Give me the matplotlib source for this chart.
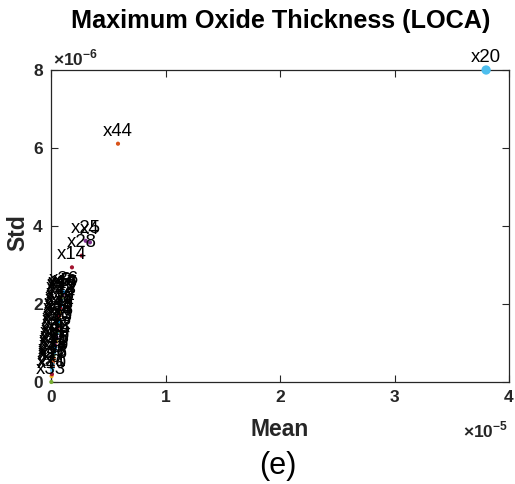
import numpy as np
import matplotlib
matplotlib.use("Agg")
import matplotlib.pyplot as plt

plt.rcParams['font.family'] = ['Liberation Sans', 'DejaVu Sans']
plt.rcParams['mathtext.fontset'] = 'custom'
plt.rcParams['mathtext.rm'] = 'Liberation Sans:bold'
plt.rcParams['mathtext.bf'] = 'Liberation Sans:bold'

# sample ids 1..50, mean and std of max oxide thickness (m)
ids = np.arange(1, 51)
mean_e6 = [0.45, 0.80, 0.20, 3.40, 0.95, 0.10, 0.60, 0.35, 1.05, 0.05,
           0.70, 0.25, 0.90, 1.83, 0.50, 0.15, 1.00, 0.30, 0.75, 38.0,
           0.08, 0.85, 0.55, 0.40, 3.03, 0.65, 0.12, 2.68, 0.92, 0.22,
           0.78, 0.48, 0.03, 0.88, 0.58, 1.10, 0.18, 0.68, 0.38, 0.97,
           0.28, 0.82, 0.62, 5.85, 0.42, 1.02, 0.52, 0.14, 0.72, 0.33]
std_e6 = [1.10, 1.75, 0.55, 3.58, 2.25, 0.30, 1.45, 0.90, 2.28, 0.15,
          1.60, 0.70, 2.05, 2.94, 1.25, 0.40, 2.20, 0.80, 1.85, 8.00,
          0.20, 2.10, 1.35, 1.00, 3.62, 1.50, 0.35, 3.24, 2.15, 0.60,
          1.80, 1.15, 0.00, 1.95, 1.40, 2.30, 0.50, 1.65, 0.95, 2.18,
          0.75, 1.90, 1.55, 6.11, 1.05, 2.22, 1.30, 0.45, 1.70, 0.85]
mean_vals = np.array(mean_e6) * 1e-6
std_vals = np.array(std_e6) * 1e-6

colororder = ['#0072BD', '#D95319', '#EDB120', '#7E2F8E',
              '#77AC30', '#4DBEEE', '#A2142F']
dark = '#262626'

fig = plt.figure(figsize=(5.15, 4.84), dpi=100)
ax = fig.add_axes([51/515, 1 - 382/484, 458/515, 312/484])

for i, m, s in zip(ids, mean_vals, std_vals):
    c = colororder[(i - 1) % 7]
    size = 45 if i == 20 else 9
    ax.scatter(m, s, s=size, color=c, edgecolors='none', zorder=3, clip_on=False)
    ax.annotate('x%d' % i, (m, s), xytext=(0, 3), textcoords='offset points',
                ha='center', va='bottom', fontsize=13.4, color='black',
                zorder=4, annotation_clip=False)

ax.set_xlim(0, 4e-5)
ax.set_ylim(0, 8e-6)
ax.set_xticks(np.arange(0, 5) * 1e-5)
ax.set_xticklabels(['0', '1', '2', '3', '4'])
ax.set_yticks(np.arange(0, 10, 2) * 1e-6)
ax.set_yticklabels(['0', '2', '4', '6', '8'])
ax.tick_params(direction='in', length=5, width=0.8, colors=dark,
               top=True, right=True, labelsize=12.5, pad=6)
for lab in ax.get_xticklabels() + ax.get_yticklabels():
    lab.set_fontweight('bold')
for sp in ax.spines.values():
    sp.set_color(dark)
    sp.set_linewidth(0.9)

ax.set_xlabel('Mean', fontsize=16.5, fontweight='bold', color=dark, labelpad=9)
ax.set_ylabel('Std', fontsize=16.5, fontweight='bold', color=dark,
              ha='center', va='center')
ax.yaxis.set_label_coords(-0.072, 0.48)

fig.text(53/515, 1 - 65/484, '×10$^{-6}$', fontsize=12.5, fontweight='bold',
         color=dark, ha='left', va='baseline')
fig.text(508/515, 1 - 437/484, '×10$^{-5}$', fontsize=12.5, fontweight='bold',
         color=dark, ha='right', va='baseline')

fig.text(281/515, 1 - 21/484, 'Maximum Oxide Thickness (LOCA)', fontsize=18.2,
         fontweight='bold', ha='center', va='center')
fig.text(278/515, 1 - 466/484, '(e)', fontsize=22, ha='center', va='center')

fig.savefig('out.png', dpi=100)
